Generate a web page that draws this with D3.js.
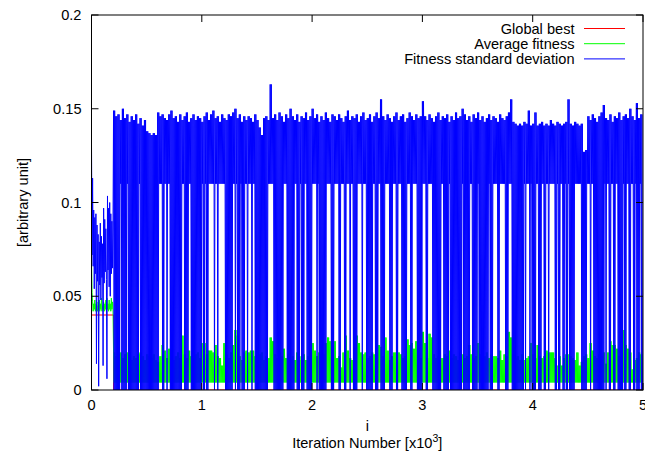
<!DOCTYPE html>
<html>
<head>
<meta charset="utf-8">
<script src="https://cdn.jsdelivr.net/npm/d3@7"></script>
<style>
  html, body { margin: 0; padding: 0; background: #fff; }
  svg { display: block; }
  text { font-family: "Liberation Sans", Arial, sans-serif; font-size: 14.6px; fill: #000; }
</style>
</head>
<body>
<svg id="chart" width="645" height="455"></svg>
<script>
// ---------------- data ----------------
const xTicks = [0, 1000, 2000, 3000, 4000, 5000];
const xTickLabels = ["0", "1", "2", "3", "4", "5"];
const yTicks = [0, 0.05, 0.1, 0.15, 0.2];
const yTickLabels = ["0", "0.05", "0.1", "0.15", "0.2"];
const seriesNames = ["Global best", "Average fitness", "Fitness standard deviation"];
const seriesColors = ["#ff0000", "#00ff00", "#0000ff"];

// Global best: piecewise constant
const bestIters = [0, 200, 200, 5000];
const bestVals = [0.04, 0.04, 0, 0];

// Average fitness, iterations 0..195 every 5
const avgEarly = [.069,.052,.047,.042,.046,.043,.048,.042,.046,.043,
                  .045,.042,.047,.043,.048,.042,.046,.043,.049,.042,
                  .045,.043,.047,.042,.046,.043,.048,.042,.049,.043,
                  .046,.042,.048,.043,.046,.042,.049,.043,.047,.043];
// Average fitness, iterations 200..4980 every 20: local maxima
const avgPeaks = [
 .020,.018,.019,.020,.017,.019,.020,.020,.016,.018,
 .017,.019,.020,.018,.016,.019,.018,.017,.019,.016,
 .015,.018,.024,.021,.017,.022,.019,.016,.018,.020,
 .017,.029,.019,.017,.021,.018,.016,.019,.020,.017,
 .025,.025,.019,.021,.021,.020,.024,.018,.017,.013,
 .025,.019,.017,.020,.024,.032,.029,.018,.016,.020,
 .021,.020,.021,.021,.018,.017,.019,.020,.016,.018,
 .017,.028,.026,.019,.017,.020,.018,.022,.017,.019,
 .016,.018,.016,.020,.018,.016,.019,.016,.018,.020,
 .025,.021,.018,.020,.017,.019,.025,.028,.026,.019,
 .026,.017,.018,.012,.020,.029,.021,.017,.016,.019,
 .029,.025,.020,.019,.020,.017,.018,.020,.019,.016,
 .024,.023,.018,.028,.021,.016,.018,.020,.020,.020,
 .019,.017,.018,.027,.024,.025,.022,.026,.019,.017,
 .031,.025,.017,.030,.028,.019,.017,.018,.017,.017,
 .019,.018,.021,.017,.019,.018,.016,.020,.019,.017,
 .018,.024,.019,.017,.018,.025,.019,.017,.018,.020,
 .017,.019,.018,.018,.017,.021,.016,.019,.018,.031,
 .028,.019,.017,.018,.016,.019,.016,.017,.018,.025,
 .019,.017,.024,.018,.017,.018,.021,.020,.020,.020,
 .017,.013,.018,.013,.017,.019,.019,.018,.017,.016,
 .020,.013,.015,.018,.019,.017,.025,.021,.018,.017,
 .019,.018,.020,.014,.020,.026,.024,.024,.022,.018,
 .019,.032,.024,.022,.020,.011,.016,.017,.020,.019];
const avgFloor = 0.004;   // local minima of the average fitness after iteration 200

// Fitness standard deviation, iterations 0..195 every 5
const stdEarly = [.131,.072,.113,.066,.096,.054,.092,.062,.094,.014,
                  .088,.058,.083,.002,.079,.056,.089,.048,.082,.060,
                  .078,.013,.097,.057,.091,.063,.086,.059,.006,.1035,
                  .064,.097,.055,.100,.050,.094,.062,.090,.065,.088];
// Fitness standard deviation, iterations 200..4980 every 20: local maxima
const stdPeaks = [
 .149,.146,.147,.144,.150,.145,.147,.143,.146,.144,
 .147,.142,.145,.141,.144,.138,.137,.136,.137,.136,
 .148,.146,.147,.145,.144,.147,.149,.145,.146,.143,
 .147,.144,.146,.148,.143,.145,.147,.144,.146,.145,
 .143,.146,.148,.144,.147,.149,.145,.146,.143,.147,
 .145,.144,.147,.146,.148,.150,.145,.147,.143,.146,
 .144,.146,.145,.143,.147,.144,.140,.136,.145,.146,
 .144,.163,.145,.147,.144,.148,.146,.143,.147,.145,
 .150,.146,.144,.147,.143,.146,.145,.148,.144,.146,
 .150,.145,.147,.143,.146,.144,.148,.145,.143,.147,
 .146,.144,.147,.145,.143,.146,.149,.144,.146,.145,
 .147,.143,.146,.148,.144,.145,.147,.143,.146,.148,
 .145,.155,.146,.144,.147,.145,.143,.146,.148,.144,
 .146,.147,.143,.145,.148,.146,.144,.147,.145,.146,
 .154,.146,.144,.147,.145,.143,.146,.148,.144,.146,
 .145,.147,.143,.146,.144,.148,.145,.146,.150,.147,
 .144,.146,.143,.147,.145,.148,.144,.146,.143,.145,
 .147,.144,.146,.145,.143,.147,.145,.144,.146,.148,
 .155,.143,.142,.141,.142,.141,.143,.142,.149,.141,
 .142,.148,.141,.142,.143,.141,.142,.141,.144,.142,
 .141,.143,.142,.141,.142,.143,.155,.142,.141,.143,
 .142,.141,.142,.127,.128,.146,.144,.147,.145,.143,
 .146,.148,.152,.145,.144,.147,.143,.146,.145,.148,
 .144,.146,.147,.145,.150,.146,.144,.153,.145,.147];
const stdBandFloor = 0.11;  // minima inside the stretches where the deviation never collapses
// iteration stretches where the deviation stays in the upper band (no drop to 0)
const stdGaps = [
 [256,265],[325,334],[431,440],[612,639],[664,678],[694,709],[823,836],[884,896],
 [1002,1014],[1026,1038],[1065,1108],[1122,1138],[1153,1213],[1283,1298],[1307,1322],
 [1353,1362],[1389,1412],[1425,1449],[1464,1480],[1600,1645],[1736,1766],[1836,1860],
 [1888,1902],[1933,1947],
 [2005,2035],[2053,2062],[2129,2174],[2196,2235],[2265,2290],[2310,2341],[2355,2371],
 [2410,2452],[2461,2491],[2552,2567],[2597,2622],[2664,2703],[2733,2763],[2779,2809],
 [2858,2885],[2906,2945],
 [3005,3033],[3051,3093],[3171,3189],[3238,3247],[3362,3374],[3429,3450],[3498,3510],
 [3601,3610],[3640,3655],[3664,3676],[3701,3751],[3782,3806],[3921,3933],[3942,3966],
 [3982,3994],[4033,4048],[4078,4102],[4123,4138],[4148,4169],[4175,4199],[4220,4229],
 [4254,4266],[4290,4299],[4320,4332],[4381,4395],[4404,4441],[4495,4517],[4531,4549],
 [4646,4658],[4671,4692],[4707,4725],[4749,4767],[4819,4834],[4852,4870],[4894,4912],
 [4930,4943],[4970,4984]];

// ---------------- build series ----------------
const gapLows = new Set();
stdGaps.forEach(([a, b]) => {
  let found = false;
  for (let t = 205; t < 5000; t += 10) {
    if (t >= a && t <= b) { gapLows.add(t); found = true; }
  }
  if (!found) {
    const c = (a + b) / 2;
    gapLows.add(Math.round((c - 5) / 10) * 10 + 5);
  }
});

const bestData = bestIters.map((t, i) => [t, bestVals[i]]);

const avgData = avgEarly.map((v, i) => [i * 5, v]);
for (let t = 200; t < 5000; t += 5) {
  if (t % 10 === 0) avgData.push([t, avgPeaks[Math.floor((t - 200) / 20)]]);
  else avgData.push([t, avgFloor]);
}

const stdData = stdEarly.map((v, i) => [i * 5, v]);
for (let t = 200; t < 5000; t += 5) {
  if (t % 10 === 0) stdData.push([t, stdPeaks[Math.floor((t - 200) / 20)]]);
  else stdData.push([t, gapLows.has(t) ? stdBandFloor : 0]);
}

// ---------------- drawing ----------------
const svg = d3.select("#chart");
const x = d3.scaleLinear().domain([0, 5000]).range([91.5, 643]);
const y = d3.scaleLinear().domain([0, 0.2]).range([390, 15]);
const x0 = x.range()[0], x1 = x.range()[1];
const yB = y.range()[0], yT = y.range()[1];

svg.append("rect").attr("width", 645).attr("height", 455).attr("fill", "#fff");

svg.append("defs").append("clipPath").attr("id", "plotclip")
  .append("rect").attr("x", x0).attr("y", yT).attr("width", x1 - x0).attr("height", yB - yT);

const line = d3.line().x(d => x(d[0])).y(d => y(d[1]));
const plot = svg.append("g").attr("clip-path", "url(#plotclip)");
[bestData, avgData, stdData].forEach((data, i) => {
  plot.append("path").datum(data)
    .attr("fill", "none")
    .attr("stroke", seriesColors[i])
    .attr("stroke-width", 1)
    .attr("d", line);
});

// frame
svg.append("rect")
  .attr("x", x0).attr("y", yT).attr("width", x1 - x0).attr("height", yB - yT)
  .attr("fill", "none").attr("stroke", "#000").attr("stroke-width", 1);

const tickLen = 7;
// y ticks (left and right, inward)
yTicks.forEach((v, i) => {
  const yy = y(v);
  svg.append("line").attr("x1", x0).attr("x2", x0 + tickLen).attr("y1", yy).attr("y2", yy)
    .attr("stroke", "#000");
  svg.append("line").attr("x1", x1).attr("x2", x1 - tickLen).attr("y1", yy).attr("y2", yy)
    .attr("stroke", "#000");
  svg.append("text").attr("x", 81.5).attr("y", yy + 5).attr("text-anchor", "end").text(yTickLabels[i]);
});
// x ticks (bottom and top, inward)
xTicks.forEach((v, i) => {
  const xx = x(v);
  svg.append("line").attr("x1", xx).attr("x2", xx).attr("y1", yB).attr("y2", yB - tickLen)
    .attr("stroke", "#000");
  svg.append("line").attr("x1", xx).attr("x2", xx).attr("y1", yT).attr("y2", yT + tickLen)
    .attr("stroke", "#000");
  svg.append("text").attr("x", xx).attr("y", 410).attr("text-anchor", "middle").text(xTickLabels[i]);
});

// axis labels
const cx = (x0 + x1) / 2;
svg.append("text").attr("x", cx).attr("y", 431).attr("text-anchor", "middle").text("i");
const xl = svg.append("text").attr("x", cx).attr("y", 448).attr("text-anchor", "middle");
xl.append("tspan").text("Iteration Number [x10");
xl.append("tspan").attr("dy", -6).attr("font-size", "10.5px").text("3");
xl.append("tspan").attr("dy", 6).text("]");

svg.append("text")
  .attr("transform", `translate(27.5,${(yT + yB) / 2}) rotate(-90)`)
  .attr("text-anchor", "middle").text("[arbitrary unit]");

// legend
seriesNames.forEach((name, i) => {
  const ly = 28.5 + i * 15.2;
  svg.append("text").attr("x", 574.5).attr("y", ly + 5).attr("text-anchor", "end").text(name);
  svg.append("line").attr("x1", 584).attr("x2", 625).attr("y1", ly).attr("y2", ly)
    .attr("stroke", seriesColors[i]).attr("stroke-width", 1);
});
</script>
</body>
</html>
